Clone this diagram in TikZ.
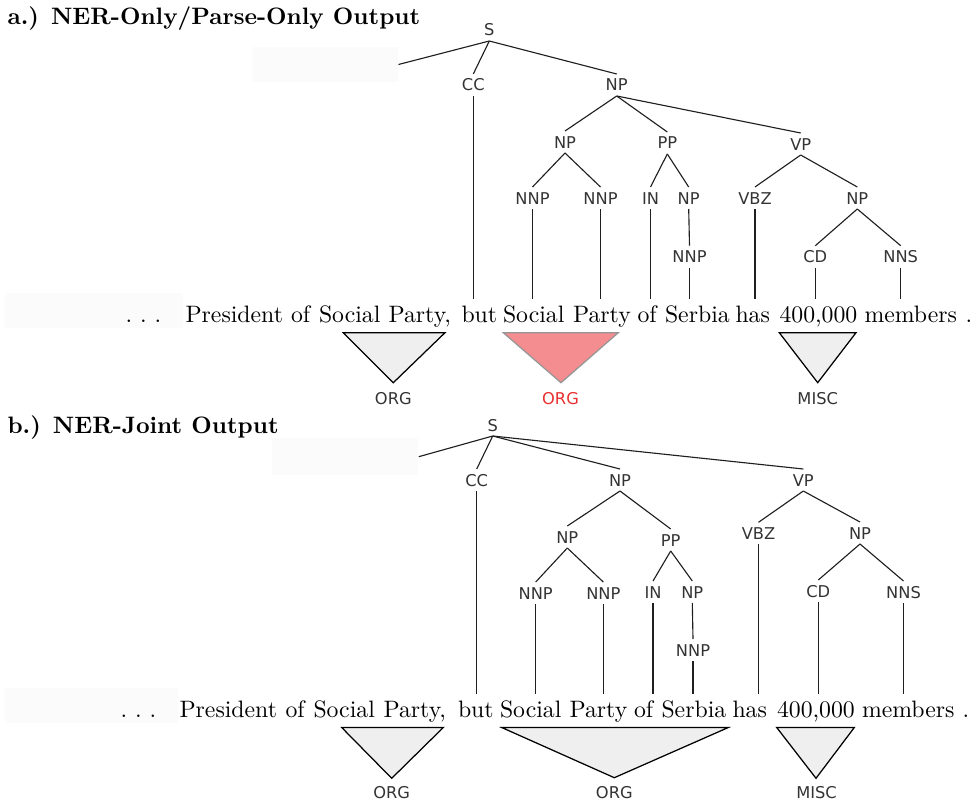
\documentclass[tikz,border=0pt]{standalone}
\usepackage{fontspec}
\newfontfamily\treefont{DejaVu Sans}
\definecolor{labgray}{RGB}{51,51,51}
\definecolor{trifill}{RGB}{239,239,239}
\definecolor{redfill}{RGB}{244,141,143}
\definecolor{redline}{RGB}{150,150,150}
\definecolor{redtext}{RGB}{232,48,48}
\definecolor{hidden}{RGB}{251,251,251}
\begin{document}
\begin{tikzpicture}[x=0.4pt,y=-0.4pt,
  lab/.style={font=\treefont\fontsize{6.5}{7}\selectfont, text=labgray, inner sep=1.8pt, text height=4.8pt, text depth=0pt},
  edge/.style={draw=black!88, line width=0.45pt},
  word/.style={font=\fontsize{9.5}{11}\selectfont, anchor=base west, inner xsep=0pt, inner ysep=2.6pt, text height=6.5pt, text depth=2pt},
  title/.style={font=\fontsize{9.5}{11}\selectfont\bfseries, anchor=base west, inner sep=0pt},
  hid/.style={fill=hidden, draw=none, inner sep=0pt},
  grytri/.style={fill=trifill, draw=black, line width=0.5pt, line join=miter},
  redtri/.style={fill=redfill, draw=redline, line width=0.5pt},
  ent/.style={lab},
  redent/.style={lab, text=redtext}]
\useasboundingbox (0,0) rectangle (979,799);

%% ---------------- part a ----------------
\node[title] (ta) at (7,25) {a.) NER-Only/Parse-Only Output};
\node[hid, minimum width=58pt, minimum height=14pt] (ahidA) at (325.5,64.5) {};
\node[hid, minimum width=71.2pt, minimum height=14pt] (ahidB) at (94,310.5) {};

\node[lab] (aS) at (489.3,30) {S};
\node[lab] (aCC) at (473.3,85) {CC};
\node[lab] (aNP) at (616.7,85) {NP};
\node[lab] (aNPb) at (565,142) {NP};
\node[lab] (aPP) at (667.3,143) {PP};
\node[lab] (aVP) at (800.7,144) {VP};
\node[lab] (aNNPa) at (532.5,198) {NNP};
\node[lab] (aNNPb) at (600.5,198) {NNP};
\node[lab] (aIN) at (650.5,198) {IN};
\node[lab] (aNPc) at (688.7,198) {NP};
\node[lab] (aVBZ) at (755,198) {VBZ};
\node[lab] (aNPd) at (857.3,198) {NP};
\node[lab] (aNNPc) at (689.5,256.7) {NNP};
\node[lab] (aCD) at (815.3,256.7) {CD};
\node[lab] (aNNS) at (900.7,256.7) {NNS};

\node[word] (adots) at (125,322.7) {.\ .\ .};
\node[word] (aw1) at (185,322.7) {President};
\node[word] (aw2) at (290.5,322.7) {of};
\node[word] (aw3) at (318.5,322.7) {Social};
\node[word] (aw4) at (388,322.7) {Party,};
\node[word] (aw5) at (461,322.7) {but};
\node[word] (aw6) at (502.5,322.7) {Social};
\node[word] (aw7) at (572.5,322.7) {Party};
\node[word] (aw8) at (637,322.7) {of};
\node[word] (aw9) at (664.5,322.7) {Serbia};
\node[word] (aw10) at (735,322.7) {has};
\node[word] (aw11) at (779,322.7) {400,000};
\node[word] (aw12) at (864,322.7) {members};
\node[word] (aw13) at (965,322.7) {.};

\draw[edge] (aS.south) -- (ahidA.east);
\draw[edge] (aS.south) -- (aCC.north);
\draw[edge] (aS.south) -- (aNP.north);
\draw[edge] (aNP.south) -- (aNPb.north);
\draw[edge] (aNP.south) -- (aPP.north);
\draw[edge] (aNP.south) -- (aVP.north);
\draw[edge] (aNPb.south) -- (aNNPa.north);
\draw[edge] (aNPb.south) -- (aNNPb.north);
\draw[edge] (aPP.south) -- (aIN.north);
\draw[edge] (aPP.south) -- (aNPc.north);
\draw[edge] (aVP.south) -- (aVBZ.north);
\draw[edge] (aVP.south) -- (aNPd.north);
\draw[edge] (aNPc.south) -- (aNNPc.north);
\draw[edge] (aNPd.south) -- (aCD.north);
\draw[edge] (aNPd.south) -- (aNNS.north);
\draw[edge] (aCC.south) -- (aCC.south |- aw5.north);
\draw[edge] (aNNPa.south) -- (aNNPa.south |- aw6.north);
\draw[edge] (aNNPb.south) -- (aNNPb.south |- aw7.north);
\draw[edge] (aIN.south) -- (aIN.south |- aw8.north);
\draw[edge] (aNNPc.south) -- (aNNPc.south |- aw9.north);
\draw[edge] (aVBZ.south) -- (aVBZ.south |- aw10.north);
\draw[edge] (aCD.south) -- (aCD.south |- aw11.north);
\draw[edge] (aNNS.south) -- (aNNS.south |- aw12.north);

\draw[grytri] (343.3,332.7) -- (445,332.7) -- (393.3,382.7) -- cycle;
\draw[redtri] (503.3,332.7) -- (618.3,332.7) -- (561,382.7) -- cycle;
\draw[grytri] (779.3,332.7) -- (856,332.7) -- (817.7,382.7) -- cycle;
\node[ent] (aorg1) at (393.3,398.3) {ORG};
\node[redent] (aorg2) at (560.5,398.3) {ORG};
\node[ent] (amisc) at (817.7,398.3) {MISC};

%% ---------------- part b ----------------
\node[title] (tb) at (7,433) {b.) NER-Joint Output};
\node[hid, minimum width=58.6pt, minimum height=14.7pt] (bhidA) at (345,456.7) {};
\node[hid, minimum width=69.2pt, minimum height=14pt] (bhidB) at (91.5,705) {};

\node[lab] (bS) at (492.7,425) {S};
\node[lab] (bCC) at (476.7,480) {CC};
\node[lab] (bNP) at (620,480) {NP};
\node[lab] (bVP) at (803.3,480) {VP};
\node[lab] (bNPb) at (567.3,537) {NP};
\node[lab] (bPP) at (670.7,540) {PP};
\node[lab] (bVBZ) at (758.5,533.3) {VBZ};
\node[lab] (bNPd) at (860,533) {NP};
\node[lab] (bNNPa) at (535.7,593) {NNP};
\node[lab] (bNNPb) at (603.3,593) {NNP};
\node[lab] (bIN) at (653,592) {IN};
\node[lab] (bNPc) at (692.3,592) {NP};
\node[lab] (bCD) at (818.3,591) {CD};
\node[lab] (bNNS) at (903.5,592) {NNS};
\node[lab] (bNNPc) at (693,650) {NNP};

\node[word] (bdots) at (120,717) {.\ .\ .};
\node[word] (bw1) at (179,717) {President};
\node[word] (bw2) at (285,717) {of};
\node[word] (bw3) at (313,717) {Social};
\node[word] (bw4) at (383,717) {Party,};
\node[word] (bw5) at (457.5,717) {but};
\node[word] (bw6) at (499.5,717) {Social};
\node[word] (bw7) at (569,717) {Party};
\node[word] (bw8) at (633.5,717) {of};
\node[word] (bw9) at (661,717) {Serbia};
\node[word] (bw10) at (732,717) {has};
\node[word] (bw11) at (776.5,717) {400,000};
\node[word] (bw12) at (861.5,717) {members};
\node[word] (bw13) at (962,717) {.};

\draw[edge] (bS.south) -- (bhidA.east);
\draw[edge] (bS.south) -- (bCC.north);
\draw[edge] (bS.south) -- (bNP.north);
\draw[edge] (bS.south) -- (bVP.north);
\draw[edge] (bNP.south) -- (bNPb.north);
\draw[edge] (bNP.south) -- (bPP.north);
\draw[edge] (bVP.south) -- (bVBZ.north);
\draw[edge] (bVP.south) -- (bNPd.north);
\draw[edge] (bNPb.south) -- (bNNPa.north);
\draw[edge] (bNPb.south) -- (bNNPb.north);
\draw[edge] (bPP.south) -- (bIN.north);
\draw[edge] (bPP.south) -- (bNPc.north);
\draw[edge] (bNPd.south) -- (bCD.north);
\draw[edge] (bNPd.south) -- (bNNS.north);
\draw[edge] (bNPc.south) -- (bNNPc.north);
\draw[edge] (bCC.south) -- (bCC.south |- bw5.north);
\draw[edge] (bNNPa.south) -- (bNNPa.south |- bw6.north);
\draw[edge] (bNNPb.south) -- (bNNPb.south |- bw7.north);
\draw[edge] (bIN.south) -- (bIN.south |- bw8.north);
\draw[edge] (bNNPc.south) -- (bNNPc.south |- bw9.north);
\draw[edge] (bVBZ.south) -- (bVBZ.south |- bw10.north);
\draw[edge] (bCD.south) -- (bCD.south |- bw11.north);
\draw[edge] (bNNS.south) -- (bNNS.south |- bw12.north);

\draw[grytri] (341.7,727.5) -- (443.3,727.5) -- (391.7,778.3) -- cycle;
\draw[grytri] (501.7,727.5) -- (728.3,727.5) -- (614.3,777.7) -- cycle;
\draw[grytri] (776.7,727.5) -- (854.3,727.5) -- (816,778.3) -- cycle;
\node[ent] (borg1) at (391.7,792) {ORG};
\node[ent] (borg2) at (614.3,792.5) {ORG};
\node[ent] (bmisc) at (816.5,792.5) {MISC};
\end{tikzpicture}
\end{document}
